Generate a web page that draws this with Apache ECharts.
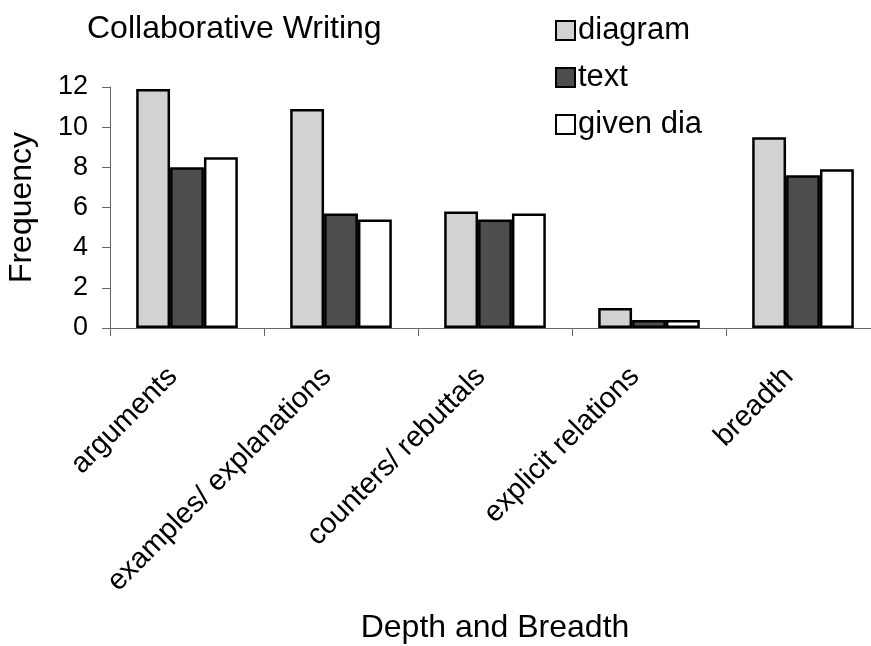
<!DOCTYPE html>
<html>
<head>
<meta charset="utf-8">
<title>Collaborative Writing</title>
<script src="https://cdn.jsdelivr.net/npm/echarts@6/dist/echarts.min.js"></script>
<style>
  html, body { margin: 0; padding: 0; background: #ffffff; }
  #chart { width: 871px; height: 646px; }
</style>
</head>
<body>
<div id="chart"></div>
<script>
// Category labels along the x axis
const categories = ['arguments', 'examples/ explanations', 'counters/ rebuttals', 'explicit relations', 'breadth'];

// Frequencies per condition
const diagramValues = [11.9, 10.9, 5.8, 1.0, 9.5];
const textValues = [8.0, 5.7, 5.4, 0.4, 7.6];
const givenDiaValues = [8.5, 5.4, 5.7, 0.4, 7.9];

const seriesNames = ['diagram', 'text', 'given dia'];

const FONT = 'Liberation Sans, Arial, Helvetica, sans-serif';

const chart = echarts.init(document.getElementById('chart'), null, { renderer: 'canvas' });

function barSeries(name, data, fill) {
  return {
    name: name,
    type: 'bar',
    data: data,
    barGap: '0%',
    barCategoryGap: '34%',
    itemStyle: { color: fill, borderColor: '#000000', borderWidth: 2.5 },
    emphasis: { disabled: true }
  };
}

chart.setOption({
  animation: false,
  backgroundColor: '#ffffff',
  textStyle: { fontFamily: FONT },
  title: {
    text: 'Collaborative Writing',
    left: 82,
    top: 8,
    textStyle: { fontFamily: FONT, fontSize: 32, fontWeight: 'normal', color: '#000000' }
  },
  legend: {
    data: seriesNames,
    orient: 'vertical',
    left: 550,
    top: 10,
    itemWidth: 19,
    itemHeight: 19,
    itemGap: 16,
    icon: 'rect',
    itemStyle: { borderColor: '#000000', borderWidth: 2 },
    textStyle: { fontFamily: FONT, fontSize: 31, color: '#000000', padding: [0, 0, 0, -2] }
  },
  grid: {
    left: 110,
    right: -9,
    top: 87,
    bottom: 318,
    containLabel: false,
    outerBoundsMode: 'none'
  },
  xAxis: {
    type: 'category',
    data: categories,
    name: 'Depth and Breadth',
    nameLocation: 'middle',
    nameGap: 284,
    nameTextStyle: { fontFamily: FONT, fontSize: 32, color: '#000000' },
    axisLine: { show: true, lineStyle: { color: '#666666', width: 1 } },
    axisTick: { show: true, inside: false, length: 8, lineStyle: { color: '#666666' } },
    axisLabel: {
      rotate: 45,
      margin: 30,
      padding: [0, 20, 0, 0],
      interval: 0,
      fontFamily: FONT,
      fontSize: 29,
      color: '#000000'
    },
    splitLine: { show: false }
  },
  yAxis: {
    type: 'value',
    min: 0,
    max: 12,
    interval: 2,
    name: 'Frequency',
    nameLocation: 'middle',
    nameGap: 72,
    nameTextStyle: { fontFamily: FONT, fontSize: 32, color: '#000000' },
    axisLine: { show: true, lineStyle: { color: '#666666', width: 1 } },
    axisTick: { show: true, inside: false, length: 8, lineStyle: { color: '#666666' } },
    axisLabel: { margin: 22, fontFamily: FONT, fontSize: 27, color: '#000000' },
    splitLine: { show: false }
  },
  series: [
    barSeries(seriesNames[0], diagramValues, '#d2d2d2'),
    barSeries(seriesNames[1], textValues, '#4d4d4d'),
    barSeries(seriesNames[2], givenDiaValues, '#ffffff')
  ]
});
</script>
</body>
</html>
